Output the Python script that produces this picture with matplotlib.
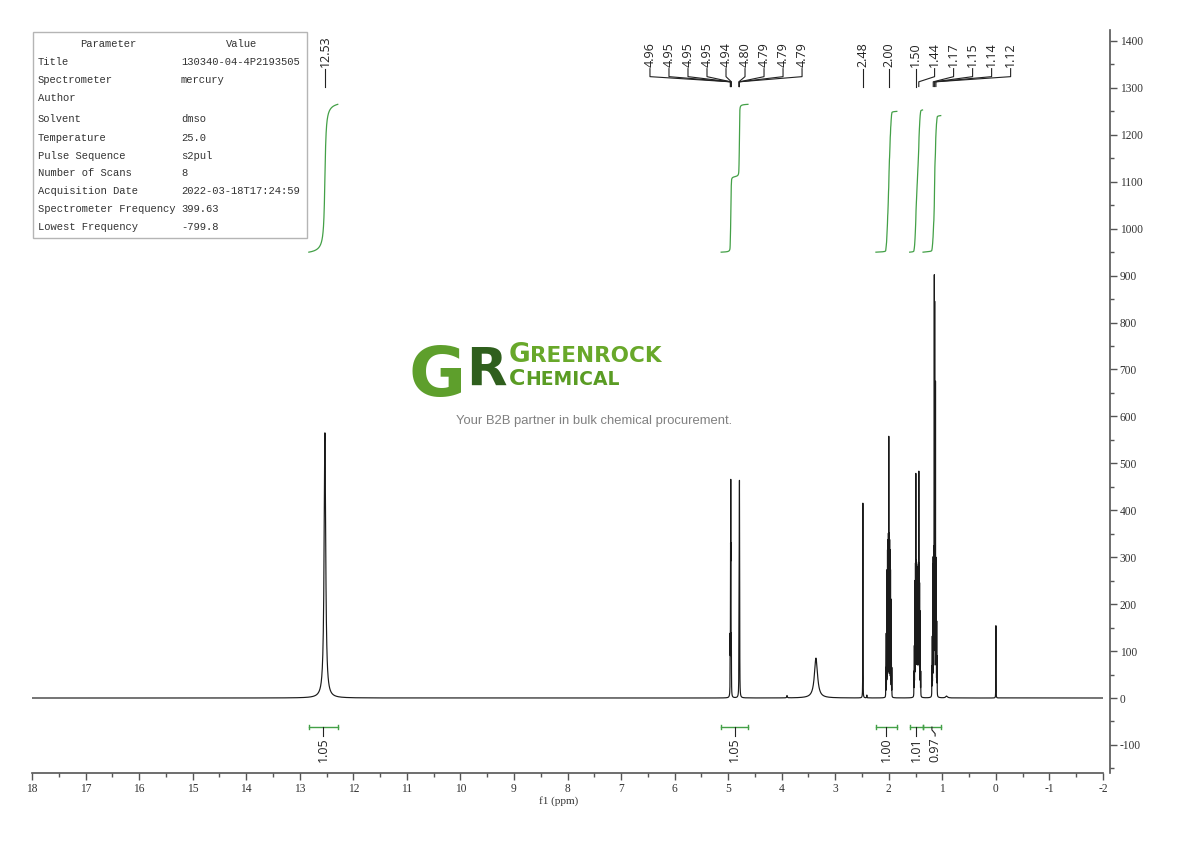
import numpy as np
import matplotlib
matplotlib.use("Agg")
import matplotlib.pyplot as plt
from matplotlib.ticker import MultipleLocator
from matplotlib.patches import Rectangle

# ---------------- data ----------------
# resonance lines: position (ppm), height, full width at half height (ppm)
acid_ppm = [12.53]
acid_h = [565]
acid_w = [0.035]

vinyl1_ppm = [4.962, 4.955, 4.951, 4.947, 4.940]
vinyl1_h = [110, 250, 380, 250, 110]
vinyl1_w = [0.0035] * 5

vinyl2_ppm = [4.798, 4.793, 4.789, 4.785]
vinyl2_h = [120, 230, 372, 200]
vinyl2_w = [0.004] * 4

water_ppm = [3.36, 3.90]
water_h = [85, 5]
water_w = [0.07, 0.012]

dmso_ppm = [2.484, 2.41]
dmso_h = [415, 6]
dmso_w = [0.003, 0.006]

m200_ppm = [2.056, 2.048, 2.040, 2.032, 2.024, 2.016, 2.008, 2.000, 1.992, 1.984, 1.976, 1.968, 1.960, 1.952, 1.944]
m200_h = [60, 130, 200, 260, 300, 320, 330, 540, 330, 320, 300, 260, 200, 130, 60]
m200_w = [0.0022] * 15

m147_ppm = [1.530, 1.523, 1.516, 1.509, 1.502, 1.495, 1.488, 1.481, 1.474, 1.467, 1.460, 1.453, 1.446, 1.439, 1.432, 1.425, 1.418, 1.411, 1.404]
m147_h = [50, 100, 170, 230, 260, 455, 265, 260, 255, 250, 250, 255, 260, 460, 260, 225, 170, 100, 50]
m147_w = [0.0025] * 19

m115_ppm = [1.195, 1.188, 1.180, 1.172, 1.165, 1.157, 1.150, 1.143, 1.136, 1.128, 1.120, 1.113, 1.105, 1.098]
m115_h = [60, 120, 200, 280, 260, 280, 860, 800, 290, 650, 270, 220, 150, 80]
m115_w = [0.0025] * 14

tms_ppm = [0.000, 0.92]
tms_h = [154, 4]
tms_w = [0.003, 0.04]

# peak picking labels (ppm)
peak_labels = ["12.53",
               "4.96", "4.95", "4.95", "4.95", "4.94", "4.80", "4.79", "4.79", "4.79",
               "2.48", "2.00",
               "1.50", "1.44", "1.17", "1.15", "1.14", "1.12"]
# integration ranges and values
integral_from = [12.83, 5.13, 2.24, 1.61, 1.36]
integral_to = [12.29, 4.63, 1.85, 1.37, 1.03]
integral_value = [1.05, 1.05, 1.00, 1.01, 0.97]

# parameter table
param_names = ["Title", "Spectrometer", "Author", "Solvent", "Temperature", "Pulse Sequence",
               "Number of Scans", "Acquisition Date", "Spectrometer Frequency", "Lowest Frequency"]
param_values = ["130340-04-4P2193505", "mercury", "", "dmso", "25.0", "s2pul",
                "8", "2022-03-18T17:24:59", "399.63", "-799.8"]

# ---------------- layout ----------------
W, H = 1190, 841
fig = plt.figure(figsize=(W / 100, H / 100), dpi=100)
plt.rcParams['axes.unicode_minus'] = False

def fx(px):
    return px / W

def fy(py):
    return 1 - py / H

ax = fig.add_axes([fx(32), fy(773), (1103 - 32) / W, (773 - 30) / H])
XMIN, XMAX = -2, 18
ax.set_xlim(XMAX, XMIN)
ax.set_ylim(-159.8, 1423.4)

# ---------------- spectrum ----------------
ppm = np.concatenate([acid_ppm, vinyl1_ppm, vinyl2_ppm, water_ppm, dmso_ppm,
                      m200_ppm, m147_ppm, m115_ppm, tms_ppm])
hgt = np.concatenate([acid_h, vinyl1_h, vinyl2_h, water_h, dmso_h,
                      m200_h, m147_h, m115_h, tms_h])
wid = np.concatenate([acid_w, vinyl1_w, vinyl2_w, water_w, dmso_w,
                      m200_w, m147_w, m115_w, tms_w])

x = np.arange(XMIN, XMAX + 0.00025, 0.0005)
spec = np.zeros_like(x)
for p, h, w in zip(ppm, hgt, wid):
    spec += h / (1 + ((x - p) / (w / 2)) ** 2)

ax.plot(x, spec, color='#1a1a1a', lw=0.85)

# ---------------- integrals ----------------
GREEN = '#43a047'
INT_BASE, INT_SCALE = 950, 300
for lo, hi, val in zip(integral_to, integral_from, integral_value):
    m = (x >= lo) & (x <= hi)
    xs = x[m][::-1]
    ys = spec[m][::-1]
    cum = np.cumsum(ys)
    ax.plot(xs, INT_BASE + val * INT_SCALE * cum / cum[-1], color=GREEN, lw=0.9)

# integral brackets and labels below baseline
BR_Y = -62
step = 0.355
prev = None
for lo, hi, val in zip(integral_to, integral_from, integral_value):
    c = (lo + hi) / 2
    ax.plot([hi, lo], [BR_Y, BR_Y], color=GREEN, lw=1.0)
    ax.plot([hi, hi], [BR_Y - 5, BR_Y + 5], color=GREEN, lw=1.0)
    ax.plot([lo, lo], [BR_Y - 5, BR_Y + 5], color=GREEN, lw=1.0)
    lx = c if prev is None else min(c, prev - step)
    prev = lx
    ax.plot([c, c, lx, lx], [BR_Y, BR_Y - 6, BR_Y - 14, BR_Y - 19], color='#222222', lw=0.8)
    ax.text(lx, BR_Y - 22, f"{val:.2f}", rotation=90, ha='center', va='top',
            fontsize=9, family='Open Sans', color='#222222')

# ---------------- peak labels ----------------
label_blocks = [(12.53, 1), (6.46, 9), (2.48, 1), (2.00, 1), (1.50, 6)]
positions = []
for start, n in label_blocks:
    positions += [start - i * step for i in range(n)]
for lab, lx in zip(peak_labels, positions):
    px = float(lab)
    ax.text(lx, 1345, lab, rotation=90, ha='center', va='bottom',
            fontsize=9, family='Open Sans', color='#222222')
    ax.plot([lx, lx, px, px], [1341, 1324, 1313, 1303], color='#222222', lw=0.8)

# ---------------- axes styling ----------------
for s in ['top', 'left']:
    ax.spines[s].set_visible(False)
ax.spines['right'].set_position(('outward', 5))
ax.spines['right'].set_color('#555555')
ax.spines['bottom'].set_color('#555555')
ax.spines['right'].set_linewidth(1.2)
ax.spines['bottom'].set_linewidth(1.2)
ax.yaxis.tick_right()
ax.xaxis.set_major_locator(MultipleLocator(1))
ax.xaxis.set_minor_locator(MultipleLocator(0.5))
ax.yaxis.set_major_locator(MultipleLocator(100))
ax.yaxis.set_minor_locator(MultipleLocator(50))
ax.tick_params(axis='both', which='major', direction='out', length=5, width=1, color='#555555',
               labelsize=8.3, labelcolor='#333333')
ax.tick_params(axis='both', which='minor', direction='out', length=3, width=1, color='#555555')
ax.tick_params(axis='x', pad=2.5)
ax.tick_params(axis='y', pad=2)
for t in ax.get_xticklabels() + ax.get_yticklabels():
    t.set_family('Liberation Serif')
ax.set_xlabel("f1 (ppm)", family='Liberation Serif', fontsize=8, color='#333333')
ax.xaxis.set_label_coords(0.492, -0.031)

# ---------------- parameter table ----------------
fig.patches.append(Rectangle((fx(33), fy(238)), (307 - 33) / W, (238 - 32) / H,
                             transform=fig.transFigure, fill=False, edgecolor='#b5b5b5', lw=1))
TF = dict(family='Liberation Mono', fontsize=7.6, color='#333333', va='center')
fig.text(fx(108), fy(44), "Parameter", ha='center', **TF)
fig.text(fx(242), fy(44), "Value", ha='center', **TF)
row_y = [62, 80, 98, 119, 138, 156, 173, 191, 209, 227]
for yy, nm, vl in zip(row_y, param_names, param_values):
    fig.text(fx(38), fy(yy), nm, ha='left', **TF)
    fig.text(fx(181), fy(yy), vl, ha='left', **TF)

# ---------------- watermark ----------------
fig.text(fx(408), fy(396), "G", fontsize=50, weight='bold', family='DejaVu Sans',
         color='#5e9f2c', va='baseline', ha='left')
fig.text(fx(466), fy(386), "R", fontsize=38, weight='bold', family='DejaVu Sans',
         color='#2f5f1d', va='baseline', ha='left')
fig.text(fx(509), fy(362), "G", fontsize=19, weight='bold', family='DejaVu Sans',
         color='#68a82a', va='baseline', ha='left')
fig.text(fx(530), fy(362), "REENROCK", fontsize=15.5, weight='bold', family='DejaVu Sans',
         color='#68a82a', va='baseline', ha='left')
fig.text(fx(509), fy(385), "C", fontsize=16, weight='bold', family='DejaVu Sans',
         color='#5a9c24', va='baseline', ha='left')
fig.text(fx(525), fy(385), "HEMICAL", fontsize=13.5, weight='bold', family='DejaVu Sans',
         color='#5a9c24', va='baseline', ha='left')
fig.text(fx(594), fy(421), "Your B2B partner in bulk chemical procurement.", fontsize=9.4,
         family='Liberation Sans', color='#808080', va='center', ha='center')

fig.savefig("out.png", dpi=100)
